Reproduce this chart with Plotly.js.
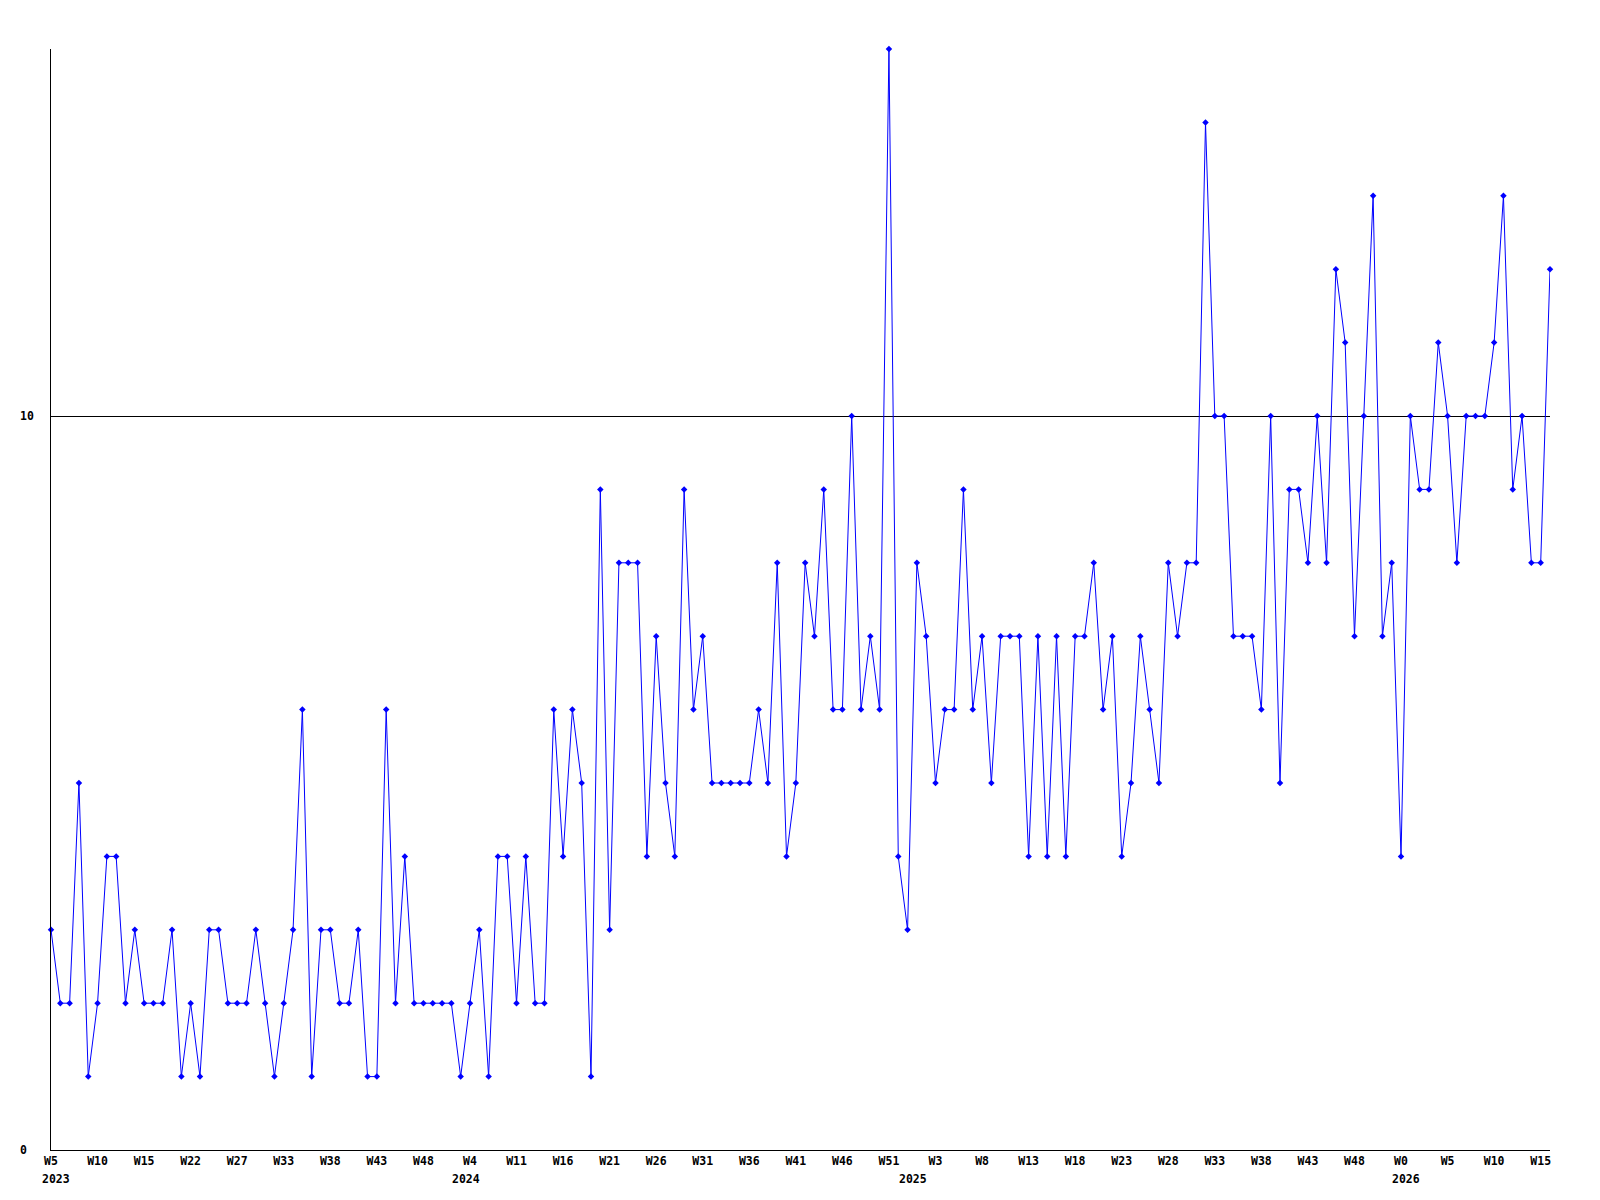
<!DOCTYPE html>
<html>
<head>
<meta charset="utf-8">
<script src="https://cdn.plot.ly/plotly-3.0.1.min.js"></script>
<style>
  html, body { margin: 0; padding: 0; background: #ffffff; }
  #chart { width: 1600px; height: 1200px; }
</style>
</head>
<body>
<div id="chart"></div>
<script>
// Weekly values, 2023 W5 through 2026 W15 (one value per week)
const weeklyValues = [
  3,2,2,5,1,2,4,4,2,3,
  2,2,2,3,1,2,1,3,3,2,
  2,2,3,2,1,2,3,6,1,3,
  3,2,2,3,1,1,6,2,4,2,
  2,2,2,2,1,2,3,1,4,4,
  2,4,2,2,6,4,6,5,1,9,
  3,8,8,8,4,7,5,4,9,6,
  7,5,5,5,5,5,6,5,8,4,
  5,8,7,9,6,6,10,6,7,6,
  15,4,3,8,7,5,6,6,9,6,
  7,5,7,7,7,4,7,4,7,4,
  7,7,8,6,7,4,5,7,6,5,
  8,7,8,8,14,10,10,7,7,7,
  6,10,5,9,9,8,10,8,12,11,
  7,10,13,7,8,4,10,9,9,11,
  10,8,10,10,10,11,13,9,10,8,
  8,12
];

// X-axis tick labels (one every 5 weeks)
const tickLabels = [
  "W5","W10","W15","W22","W27","W33","W38","W43","W48",
  "W4","W11","W16","W21","W26","W31","W36","W41","W46","W51",
  "W3","W8","W13","W18","W23","W28","W33","W38","W43","W48",
  "W0","W5","W10","W15"
];
const tickStep = 5;

// Year labels and the week index at which each year starts
const yearLabels = ["2023","2024","2025","2026"];
const yearStartIndex = [0, 44, 92, 145];

// Y-axis labels
const yTickValues = [0, 10];
const yRange = [0, 15];

const xs = weeklyValues.map((_, i) => i);
const tickVals = tickLabels.map((_, i) => i * tickStep);

const FONT = "DejaVu Sans Mono, Liberation Mono, monospace";
const FSIZE = 11.5;

const trace = {
  x: xs,
  y: weeklyValues,
  type: "scatter",
  mode: "lines+markers",
  line: { color: "#0000ff", width: 1 },
  marker: { color: "#0000ff", size: 5, symbol: "diamond" },
  hoverinfo: "x+y",
  cliponaxis: false
};

const annotations = [];
yearLabels.forEach((yl, i) => {
  annotations.push({
    text: "<b>" + yl + "</b>",
    x: yearStartIndex[i],
    xref: "x",
    y: 0,
    yref: "paper",
    xanchor: "left",
    yanchor: "top",
    xshift: -11,
    yshift: -20,
    showarrow: false,
    font: { family: FONT, size: FSIZE, color: "#000000" }
  });
});
yTickValues.forEach(v => {
  annotations.push({
    text: "<b>" + v + "</b>",
    x: 0,
    xref: "paper",
    y: v,
    yref: "y",
    xanchor: "left",
    yanchor: "middle",
    xshift: -33,
    showarrow: false,
    font: { family: FONT, size: FSIZE, color: "#000000" }
  });
});

const layout = {
  width: 1600,
  height: 1200,
  margin: { l: 51, r: 50, t: 49, b: 50, pad: 0 },
  paper_bgcolor: "#ffffff",
  plot_bgcolor: "#ffffff",
  showlegend: false,
  xaxis: {
    range: [0, weeklyValues.length - 1],
    tickmode: "array",
    tickvals: tickVals,
    ticktext: tickLabels.map(t => "<b>" + t + "</b>"),
    ticks: "",
    showgrid: false,
    zeroline: false,
    showline: true,
    linecolor: "#000000",
    linewidth: 1,
    tickangle: 0,
    tickfont: { family: FONT, size: FSIZE, color: "#000000" }
  },
  yaxis: {
    range: yRange,
    tickmode: "array",
    tickvals: yTickValues,
    showticklabels: false,
    ticks: "",
    showgrid: true,
    gridcolor: "#000000",
    gridwidth: 1,
    zeroline: false,
    showline: true,
    linecolor: "#000000",
    linewidth: 1
  },
  annotations: annotations
};

Plotly.newPlot("chart", [trace], layout, { displayModeBar: false, staticPlot: true });
</script>
</body>
</html>
